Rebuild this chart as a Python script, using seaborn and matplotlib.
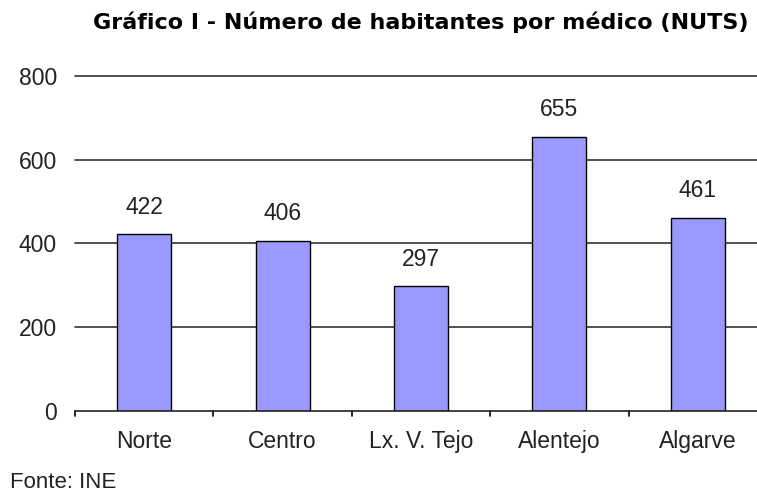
import matplotlib
matplotlib.use("Agg")
import matplotlib.pyplot as plt
import seaborn as sns
import pandas as pd

categories = ["Norte", "Centro", "Lx. V. Tejo", "Alentejo", "Algarve"]
values = [422, 406, 297, 655, 461]
yticks = [0, 200, 400, 600, 800]
title = "Gráfico I - Número de habitantes por médico (NUTS)"
source = "Fonte: INE"

sns.set_theme(style="white")
plt.rcParams['font.family'] = ['Liberation Sans', 'DejaVu Sans']

df = pd.DataFrame({"cat": categories, "val": values})

fig = plt.figure(figsize=(7.57, 4.93), dpi=100)
W, H = 757, 493
x0, x1 = 75, 767
y0, y1 = 410.5, 76
ax = fig.add_axes([x0 / W, 1 - y0 / H, (x1 - x0) / W, (y0 - y1) / H])

sns.barplot(data=df, x="cat", y="val", color="#9999FF", saturation=1,
            width=0.39, edgecolor="black", linewidth=1.0, ax=ax, zorder=3)

ax.set_xlim(-0.5, len(categories) - 0.5)
ax.set_ylim(0, 800)
ax.set_yticks(yticks)
ax.set_yticklabels([str(t) for t in yticks], fontsize=16.5, color="#222222")
for t in yticks[1:]:
    ax.axhline(t, color="#333333", linewidth=1.2, zorder=1, clip_on=False)
ax.set_xlabel("")
ax.set_ylabel("")
ax.tick_params(axis="y", length=0, pad=13)
ax.set_xticks(range(len(categories)))
ax.set_xticklabels(categories, fontsize=16.5, color="#222222")
ax.tick_params(axis="x", length=0, pad=14)
# boundary ticks
for b in [i - 0.5 for i in range(len(categories) + 1)]:
    ax.plot([b, b], [0, -0.016], transform=ax.get_xaxis_transform(),
            color="black", linewidth=1.2, clip_on=False)

for s in ["top", "right", "left"]:
    ax.spines[s].set_visible(False)
ax.spines["bottom"].set_color("#222222")
ax.spines["bottom"].set_linewidth(1.2)
ax.spines["bottom"].set_zorder(4)

for i, v in enumerate(values):
    ax.annotate(str(v), (i, v), xytext=(0, 11), textcoords="offset points",
                ha="center", va="bottom", fontsize=16.5, color="#222222")

fig.text(421 / W, 1 - 22 / H, title, ha="center", va="center",
         fontsize=16, fontweight="bold",
         family=['DejaVu Sans'],
         color="black")
fig.text(10 / W, 1 - 483 / H, source, ha="left", va="center",
         fontsize=16, color="#222222")

fig.savefig("out.png", dpi=100, facecolor="white")
